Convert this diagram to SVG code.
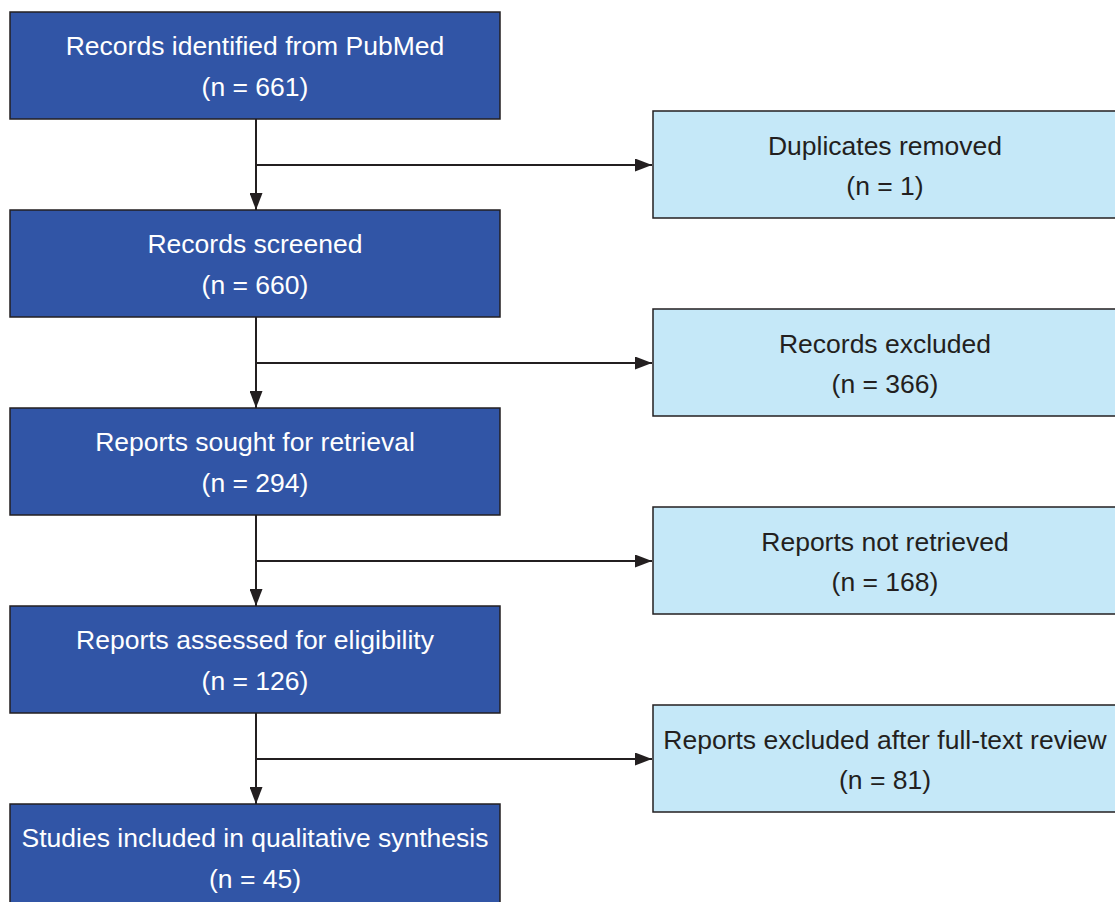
<svg xmlns="http://www.w3.org/2000/svg" width="1115" height="902" viewBox="0 0 1115 902">
<defs>
<marker id="arr" markerWidth="17" markerHeight="13" refX="17" refY="6.5" orient="auto" markerUnits="userSpaceOnUse">
<path d="M0,0 L17,6.5 L0,13 Z" fill="#231f20"/>
</marker>
</defs>
<style>
.main rect{fill:#3155a6;stroke:#231f20;stroke-width:1.5}
.side rect{fill:#c5e8f8;stroke:#231f20;stroke-width:1.5}
text{font-family:"Liberation Sans",Arial,sans-serif;font-size:26.5px;text-anchor:middle}
.main text{fill:#ffffff}
.side text{fill:#231f20}
.conn line{stroke:#231f20;stroke-width:2;fill:none}
</style>
<rect width="1115" height="902" fill="#ffffff"/>
<g class="conn">
<line x1="256" y1="119" x2="256" y2="210" marker-end="url(#arr)"/>
<line x1="256" y1="165" x2="652" y2="165" marker-end="url(#arr)"/>
<line x1="256" y1="317" x2="256" y2="408" marker-end="url(#arr)"/>
<line x1="256" y1="363" x2="652" y2="363" marker-end="url(#arr)"/>
<line x1="256" y1="515" x2="256" y2="606" marker-end="url(#arr)"/>
<line x1="256" y1="561" x2="652" y2="561" marker-end="url(#arr)"/>
<line x1="256" y1="713" x2="256" y2="804" marker-end="url(#arr)"/>
<line x1="256" y1="759" x2="652" y2="759" marker-end="url(#arr)"/>
</g>
<g id="n1" class="main"><rect x="10" y="12" width="490" height="107"/><text x="255" y="55">Records identified from PubMed</text><text x="255" y="96">(n = 661)</text></g>
<g id="n2" class="main"><rect x="10" y="210" width="490" height="107"/><text x="255" y="253">Records screened</text><text x="255" y="294">(n = 660)</text></g>
<g id="n3" class="main"><rect x="10" y="408" width="490" height="107"/><text x="255" y="451">Reports sought for retrieval</text><text x="255" y="492">(n = 294)</text></g>
<g id="n4" class="main"><rect x="10" y="606" width="490" height="107"/><text x="255" y="649">Reports assessed for eligibility</text><text x="255" y="690">(n = 126)</text></g>
<g id="n5" class="main"><rect x="10" y="804" width="490" height="107"/><text x="255" y="847">Studies included in qualitative synthesis</text><text x="255" y="888">(n = 45)</text></g>
<g id="s1" class="side"><rect x="653" y="111" width="464" height="107"/><text x="885" y="155">Duplicates removed</text><text x="885" y="195">(n = 1)</text></g>
<g id="s2" class="side"><rect x="653" y="309" width="464" height="107"/><text x="885" y="353">Records excluded</text><text x="885" y="393">(n = 366)</text></g>
<g id="s3" class="side"><rect x="653" y="507" width="464" height="107"/><text x="885" y="551">Reports not retrieved</text><text x="885" y="591">(n = 168)</text></g>
<g id="s4" class="side"><rect x="653" y="705" width="464" height="107"/><text x="885" y="749">Reports excluded after full-text review</text><text x="885" y="789">(n = 81)</text></g>
</svg>
